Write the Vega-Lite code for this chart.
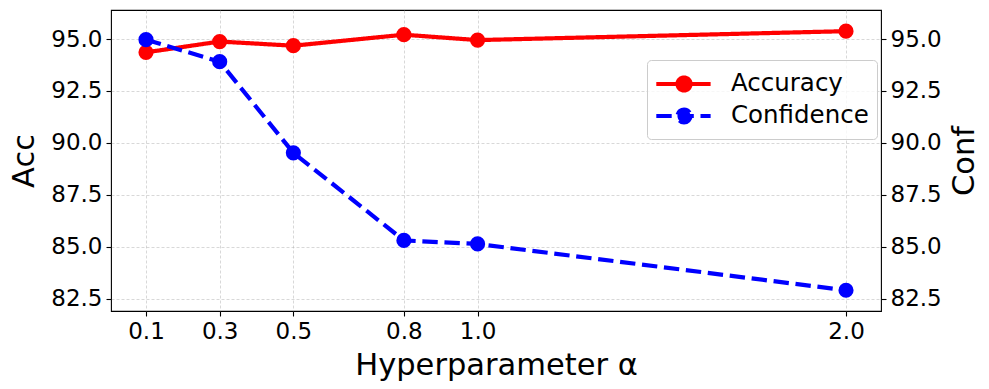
{
  "$schema": "https://vega.github.io/schema/vega-lite/v6.json",
  "width": 770,
  "height": 301,
  "autosize": {"type": "none"},
  "padding": {"left": 111, "top": 10, "right": 108, "bottom": 78},
  "background": "white",
  "config": {
    "font": "DejaVu Sans",
    "view": {"stroke": "black", "strokeWidth": 1.1},
    "axis": {
      "domain": false,
      "tickColor": "black",
      "tickSize": 5,
      "tickWidth": 1.1,
      "labelPadding": 4,
      "labelFont": "DejaVu Sans",
      "labelFontSize": 23,
      "labelColor": "black",
      "titleFont": "DejaVu Sans",
      "titleFontSize": 30.5,
      "titleFontWeight": "normal",
      "titleColor": "black",
      "gridColor": "#b0b0b0",
      "gridOpacity": 0.7,
      "gridWidth": 0.7,
      "gridDash": [3, 2]
    }
  },
  "data": {
    "values": [
      {"alpha": 0.1, "series": "Accuracy", "value": 94.36},
      {"alpha": 0.3, "series": "Accuracy", "value": 94.88},
      {"alpha": 0.5, "series": "Accuracy", "value": 94.68},
      {"alpha": 0.8, "series": "Accuracy", "value": 95.21},
      {"alpha": 1.0, "series": "Accuracy", "value": 94.95},
      {"alpha": 2.0, "series": "Accuracy", "value": 95.38},
      {"alpha": 0.1, "series": "Confidence", "value": 94.97},
      {"alpha": 0.3, "series": "Confidence", "value": 93.91},
      {"alpha": 0.5, "series": "Confidence", "value": 89.52},
      {"alpha": 0.8, "series": "Confidence", "value": 85.30},
      {"alpha": 1.0, "series": "Confidence", "value": 85.13},
      {"alpha": 2.0, "series": "Confidence", "value": 82.90}
    ]
  },
  "encoding": {
    "x": {
      "field": "alpha",
      "type": "quantitative",
      "scale": {"domain": [0.005, 2.095], "nice": false, "zero": false},
      "axis": {
        "title": "Hyperparameter α",
        "values": [0.1, 0.3, 0.5, 0.8, 1.0, 2.0],
        "format": ".1f",
        "grid": true,
        "titlePadding": 7,
        "labelFlush": false,
        "labelOverlap": false
      }
    },
    "color": {
      "field": "series",
      "type": "nominal",
      "scale": {"domain": ["Accuracy", "Confidence"], "range": ["#ff0000", "#0000ff"]},
      "legend": {
        "title": null,
        "orient": "none",
        "legendX": 536,
        "legendY": 50,
        "padding": 8,
        "rowPadding": 1,
        "symbolType": "M-1.05,0H2.83M1.4,0A0.47,0.47,0,1,1,0.46,0A0.47,0.47,0,1,1,1.4,0Z",
        "symbolSize": 784,
        "symbolStrokeWidth": 4,
        "labelOffset": 44,
        "labelFontSize": 24.5,
        "labelFont": "DejaVu Sans",
        "labelColor": "black",
        "fillColor": "rgba(255,255,255,0.8)",
        "strokeColor": "#cccccc",
        "cornerRadius": 4,
        "encode": {
          "symbols": {"update": {"fill": {"scale": "color", "field": "value"}, "fillOpacity": {"value": 1}}}
        }
      }
    }
  },
  "layer": [
    {
      "transform": [{"filter": "datum.series === 'Accuracy'"}],
      "encoding": {
        "y": {
          "field": "value",
          "type": "quantitative",
          "scale": {"domain": [81.9, 96.4], "nice": false, "zero": false},
          "axis": {
            "title": "Acc",
            "orient": "left",
            "values": [82.5, 85, 87.5, 90, 92.5, 95],
            "format": ".1f",
            "grid": true,
            "titlePadding": 11
          }
        }
      },
      "layer": [
        {
          "mark": {"type": "line", "strokeWidth": 4.2},
          "encoding": {
            "strokeDash": {
              "field": "series",
              "type": "nominal",
              "scale": {"domain": ["Accuracy", "Confidence"], "range": [[1, 0], [15.4, 6.7]]},
              "legend": null
            }
          }
        },
        {"mark": {"type": "point", "filled": true, "size": 230, "opacity": 1}}
      ]
    },
    {
      "transform": [{"filter": "datum.series === 'Confidence'"}],
      "encoding": {
        "y": {
          "field": "value",
          "type": "quantitative",
          "scale": {"domain": [81.9, 96.4], "nice": false, "zero": false},
          "axis": {
            "title": "Conf",
            "orient": "right",
            "values": [82.5, 85, 87.5, 90, 92.5, 95],
            "format": ".1f",
            "grid": false,
            "titleAngle": 270,
            "titleBaseline": "top",
            "titlePadding": 8
          }
        }
      },
      "layer": [
        {
          "mark": {"type": "line", "strokeWidth": 4.2},
          "encoding": {
            "strokeDash": {
              "field": "series",
              "type": "nominal",
              "scale": {"domain": ["Accuracy", "Confidence"], "range": [[1, 0], [15.4, 6.7]]},
              "legend": null
            }
          }
        },
        {"mark": {"type": "point", "filled": true, "size": 230, "opacity": 1}}
      ]
    }
  ],
  "resolve": {"scale": {"y": "independent"}}
}
